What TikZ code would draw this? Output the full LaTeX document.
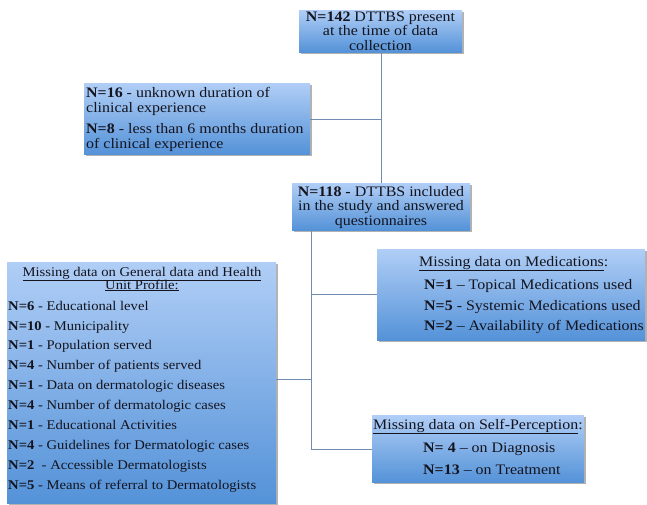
\documentclass[tikz,border=0pt]{standalone}
\usepackage{fontspec}
\setmainfont[FakeStretch=1.1]{Liberation Serif}
\usetikzlibrary{shadows}
\definecolor{boxtop}{RGB}{176,206,246}
\definecolor{boxbot}{RGB}{84,146,216}
\definecolor{linec}{RGB}{112,140,178}
\definecolor{txtc}{RGB}{20,20,30}
\tikzset{
  box/.style={anchor=north west, inner sep=0, draw=none,
    top color=boxtop, bottom color=boxbot,
    drop shadow={shadow xshift=1.5pt, shadow yshift=-2pt, fill=black, opacity=0.3}},
  txt/.style={anchor=base west, inner sep=0, text=txtc, font=\fontsize{14.5}{16}\selectfont},
  ctxt/.style={anchor=base, inner sep=0, text=txtc, font=\fontsize{14.5}{16}\selectfont},
  stxt/.style={txt, font=\fontsize{13.3}{15}\selectfont},
  sctxt/.style={ctxt, font=\fontsize{13.3}{15}\selectfont},
  conn/.style={draw=linec, line width=1pt}
}
\begin{document}
\begin{tikzpicture}[x=1pt,y=-1pt]
\useasboundingbox (0,0) rectangle (647,504);
% boxes
\node[box, minimum width=163pt, minimum height=42pt] (b1) at (299,10) {};
\node[box, minimum width=226pt, minimum height=71pt] (b2) at (84,83) {};
\node[box, minimum width=178pt, minimum height=47pt] (b3) at (292,183) {};
\node[box, minimum width=269pt, minimum height=241pt] (b4) at (7,262) {};
\node[box, minimum width=268pt, minimum height=91pt] (b5) at (377,249) {};
\node[box, minimum width=212pt, minimum height=67pt] (b6) at (372,415) {};
% connectors
\coordinate (j1) at (381,119);
\coordinate (v1) at (381,52);
\coordinate (v2) at (381,183);
\coordinate (t3) at (311,230);
\coordinate (j5) at (311,294);
\coordinate (j4) at (311,379);
\coordinate (j6) at (311,449);
\draw[conn] (v1) -- (v2);
\draw[conn] (j1) -- (j1 -| b2.east);
\draw[conn] (t3) -- (j6);
\draw[conn] (j5) -- (j5 -| b5.west);
\draw[conn] (j4) -- (j4 -| b4.east);
\draw[conn] (j6) -- (j6 -| b6.west);
% box 1
\node[ctxt] (t1a) at (380.5,21) {\textbf{N=142} DTTBS present};
\node[ctxt] (t1b) at (380.5,35.5) {at the time of data};
\node[ctxt] (t1c) at (380.5,50) {collection};
% box 2
\node[txt] (t2a) at (86,97) {\textbf{N=16} - unknown duration of};
\node[txt] (t2b) at (86,112) {clinical experience};
\node[txt] (t2c) at (86,133) {\textbf{N=8} - less than 6 months duration};
\node[txt] (t2d) at (86,148) {of clinical experience};
% box 3
\node[ctxt] (t3a) at (381,196) {\textbf{N=118 -} DTTBS included};
\node[ctxt] (t3b) at (381,210.5) {in the study and answered};
\node[ctxt] (t3c) at (381,225) {questionnaires};
% box 4
\node[sctxt] (t4a) at (142,276) {\underline{Missing data on General data and Health}};
\node[sctxt] (t4b) at (142,289) {\underline{Unit Profile:}};
\node[stxt] (t4c) at (8,310) {\textbf{N=6} - Educational level};
\node[stxt] (t4d) at (8,330) {\textbf{N=10} - Municipality};
\node[stxt] (t4e) at (8,349.5) {\textbf{N=1} - Population served};
\node[stxt] (t4f) at (8,369) {\textbf{N=4} - Number of patients served};
\node[stxt] (t4g) at (8,389) {\textbf{N=1} - Data on dermatologic diseases};
\node[stxt] (t4h) at (8,409) {\textbf{N=4} - Number of dermatologic cases};
\node[stxt] (t4i) at (8,429) {\textbf{N=1} - Educational Activities};
\node[stxt] (t4j) at (8,449) {\textbf{N=4} - Guidelines for Dermatologic cases};
\node[stxt] (t4k) at (8,469) {\textbf{N=2} ~- Accessible Dermatologists};
\node[stxt] (t4l) at (8,489.5) {\textbf{N=5} - Means of referral to Dermatologists};
% box 5
\node[txt] (t5a) at (419,266) {\underline{Missing data on Medications}:};
\node[txt] (t5b) at (424,289) {\textbf{N=1} -- Topical Medications used};
\node[txt] (t5c) at (424,310) {\textbf{N=5} - Systemic Medications used};
\node[txt] (t5d) at (424,330) {\textbf{N=2} -- Availability of Medications};
% box 6
\node[txt] (t6a) at (373,429) {\underline{Missing data on Self-Perception}:};
\node[txt] (t6b) at (423,452) {\textbf{N= 4} -- on Diagnosis};
\node[txt] (t6c) at (423,474) {\textbf{N=13} -- on Treatment};
\end{tikzpicture}
\end{document}
